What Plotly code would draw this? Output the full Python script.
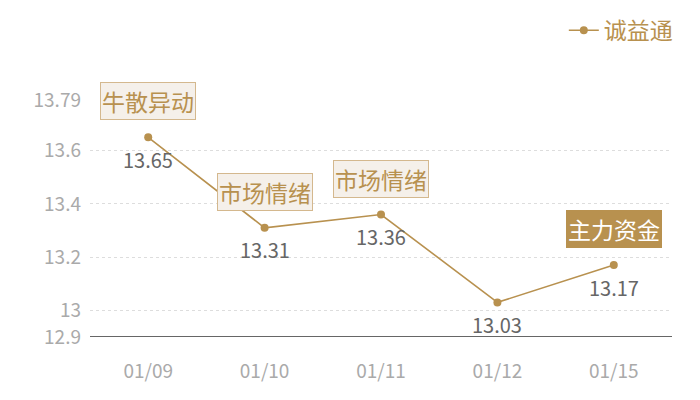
import plotly.graph_objects as go

dates = ["01/09", "01/10", "01/11", "01/12", "01/15"]
prices = [13.65, 13.31, 13.36, 13.03, 13.17]
series_name = "诚益通"
tick_vals = [12.9, 13, 13.2, 13.4, 13.6, 13.79]
tick_text = ["12.9", "13", "13.2", "13.4", "13.6", "13.79"]
events = [("01/09", 13.65, "牛散异动", False),
          ("01/10", 13.31, "市场情绪", False),
          ("01/11", 13.36, "市场情绪", False),
          ("01/15", 13.17, "主力资金", True)]

gold = "#b8914f"
font = "Noto Sans CJK SC"

fig = go.Figure()
fig.add_trace(go.Scatter(
    x=dates, y=prices, name=series_name, mode="lines+markers",
    line=dict(color=gold, width=1.6),
    marker=dict(color=gold, size=8),
))

for d, v in zip(dates, prices):
    fig.add_annotation(
        x=d, y=v, text=f"{v:.2f}", showarrow=False, yshift=-22,
        font=dict(size=20, color="#666666", family=font),
    )

for d, v, label, filled in events:
    fig.add_annotation(
        x=d, y=v, text=label, showarrow=False, yshift=36,
        font=dict(size=23, color="#ffffff" if filled else gold, family=font),
        bgcolor=gold if filled else "#f5f0ea",
        bordercolor=gold if filled else "#d4b88e",
        borderwidth=1, borderpad=1,
    )

fig.update_layout(
    width=700, height=400,
    margin=dict(l=82, r=36, t=92, b=71, autoexpand=False),
    plot_bgcolor="white", paper_bgcolor="white",
    font=dict(family=font),
    showlegend=True,
    legend=dict(x=1.01, y=1.385, xanchor="right", yanchor="top",
                font=dict(size=23, color=gold, family=font),
                bgcolor="rgba(0,0,0,0)", itemwidth=30),
    xaxis=dict(type="category", range=[-0.5, 4.5], showgrid=False,
               tickfont=dict(size=19, color="#aaaaaa"), ticks="",
               showline=False, zeroline=False, automargin=False,
               ticklabelstandoff=21),
    yaxis=dict(range=[12.9, 13.79], tickvals=tick_vals, ticktext=tick_text,
               showgrid=True, gridcolor="#dddddd", griddash="dot",
               tickfont=dict(size=19, color="#aaaaaa"), ticks="",
               zeroline=False, showline=False, ticklabelstandoff=8,
               automargin=False),
)
fig.add_shape(type="line", xref="paper", yref="y", x0=0, x1=1, y0=12.9, y1=12.9,
              line=dict(color="#333333", width=1.5))

fig.write_html("out.html")
